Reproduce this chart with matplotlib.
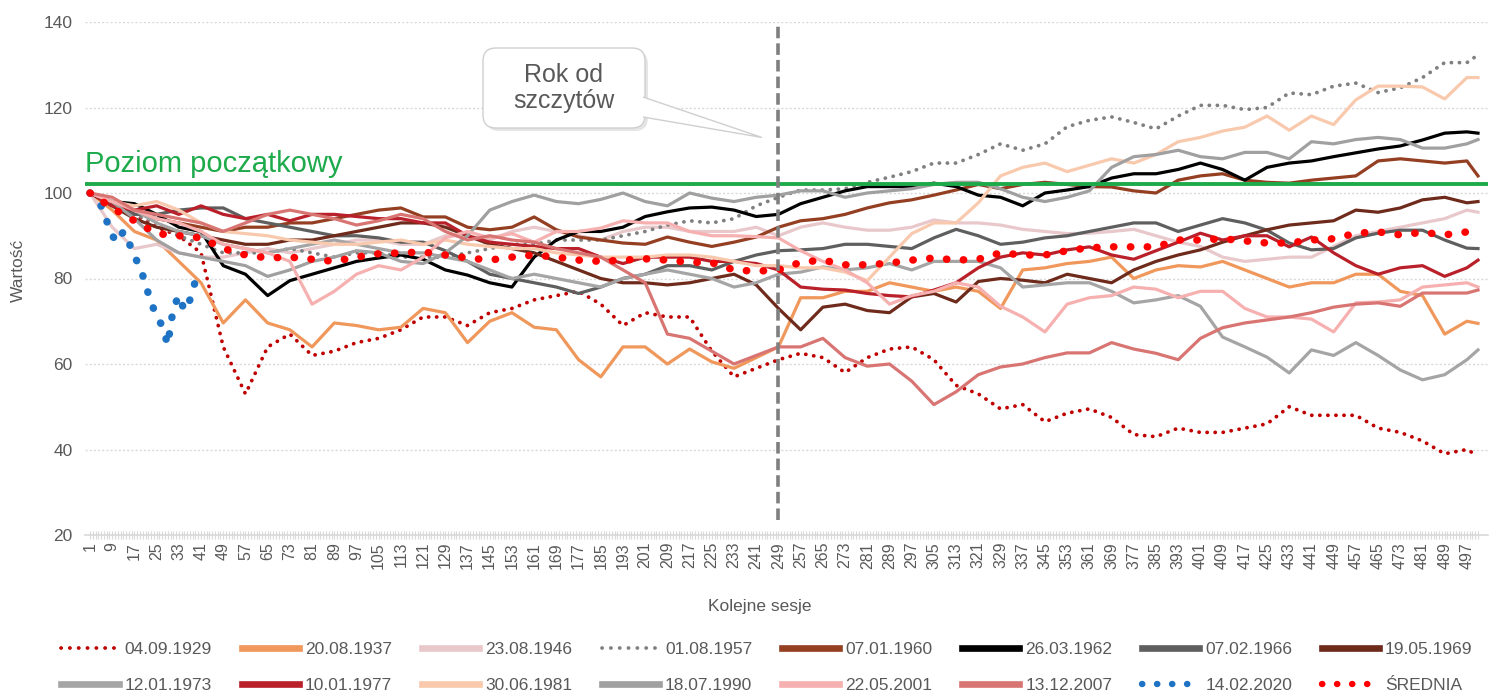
import matplotlib
matplotlib.use('Agg')
import matplotlib.pyplot as plt
from matplotlib.lines import Line2D
from matplotlib.patches import FancyBboxPatch, Polygon
from matplotlib.transforms import IdentityTransform

plt.rcParams['font.family'] = ['Liberation Sans', 'DejaVu Sans']

# ---------------- data ----------------
sesje = list(range(1, 498, 8)) + [501]
sesje_2020 = list(range(1, 40, 2))
tick_sesje = list(range(1, 498, 8))
y_ticks = [20, 40, 60, 80, 100, 120, 140]

s1929 = [100, 97, 95, 92, 90, 86, 64, 53,
         64, 67, 62, 63, 65, 66, 68, 71,
         71, 69, 72, 73, 75, 76, 77, 74,
         69, 72, 71, 71, 63, 57, 59, 61,
         62.5, 61.5, 58, 61.5, 63.5, 64, 61, 55,
         53, 49.5, 50.5, 46.5, 48.5, 49.5, 47.5, 43.5,
         43, 45, 44, 44, 45, 46, 50, 48,
         48, 48, 45, 44, 42, 39, 40, 38.5]
s1937 = [100, 96, 91, 89, 84, 79, 69.6, 75,
         69.6, 68, 64, 69.6, 69, 68, 68.6, 73,
         72, 65, 70, 72, 68.6, 68, 61, 57,
         64, 64, 60, 63.5, 60.5, 59, 61.5, 64,
         75.5, 75.5, 77, 77, 79, 78, 77, 78,
         77, 73, 82, 82.5, 83.5, 84, 85, 80,
         82, 83, 82.7, 84, 82, 80, 78, 79,
         79, 81, 81, 77, 76, 67, 70, 69.5]
s1946 = [100, 92, 87, 88, 86, 85, 85, 86,
         87, 86, 87, 88, 89, 89, 88, 88,
         90, 90, 89, 91, 92, 91, 90, 89,
         91, 92, 92, 91, 91, 91, 92, 90,
         92, 93, 92, 91.3, 91.3, 92, 93.7, 93,
         93, 92.5, 91.5, 91, 90.5, 90.6, 91, 91.5,
         90, 88.5, 87.5, 85, 84, 84.5, 85, 85,
         87.5, 90, 91, 92, 93, 94, 96, 95.5]
s1957 = [100, 97, 95, 93, 90, 88, 86, 86,
         86, 87, 86, 85, 86, 86, 85, 85,
         85, 86, 87, 88, 88, 89, 89, 89,
         90, 91, 92.5, 93.5, 93, 94, 97, 99,
         100.7, 100.7, 101, 102.5, 103.7, 105, 107, 107,
         109, 111.5, 110, 111.5, 115.5, 117, 117.8, 116.5,
         115, 118, 120.5, 120.5, 119.5, 120, 123.4, 123,
         125, 125.7, 123.5, 124.6, 127, 130.5, 130.5, 132.3]
s1960 = [100, 98, 96, 94, 93, 92, 91, 92,
         92, 93, 93, 94, 95, 96, 96.5, 94.4,
         94.4, 92, 91.4, 92, 94.4, 91.4, 89.7, 89,
         88.3, 88, 89.7, 88.5, 87.5, 88.5, 89.7, 92,
         93.5, 94, 95, 96.5, 97.7, 98.4, 99.5, 100.7,
         102, 101, 102, 102.5, 102, 101.5, 101.4, 100.5,
         100, 103, 104, 104.5, 103, 102.5, 102.3, 103,
         103.5, 104, 107.5, 108, 107.5, 107, 107.5, 104]
s1962 = [100, 98, 97.5, 95, 92, 91, 83, 81,
         76, 79.5, 81, 82.5, 84, 84.8, 85.5, 84.5,
         82, 80.8, 79, 78, 85, 89, 91, 91,
         92, 94.5, 95.6, 96.5, 96.7, 96, 94.5, 95,
         97.5, 99, 100.5, 101.5, 101.5, 101.5, 102.3, 101.5,
         99.5, 99, 97, 100, 100.7, 101.5, 103.5, 104.5,
         104.5, 105.5, 107, 105.5, 103, 106, 107, 107.5,
         108.5, 109.4, 110.3, 111, 112.4, 114, 114.3, 114]
s1966 = [100, 98, 95, 95, 96, 96.5, 96.5, 94,
         93, 92, 91, 90, 90, 89.5, 88.5, 88.5,
         86.5, 84, 81, 80, 79, 78, 76.5, 78,
         80, 81, 83, 83, 82, 84, 85.5, 86.5,
         86.7, 87, 88, 88, 87.5, 87, 89.5, 91.5,
         90, 88, 88.5, 89.5, 90, 91, 92, 93,
         93, 91, 92.5, 94, 93, 91.3, 88.3, 86.7,
         87, 89.5, 90.6, 91.3, 91.3, 89, 87.1, 87]
s1969 = [100, 97, 94, 92, 91, 90, 89, 88,
         88, 89, 89, 90, 91, 92, 93, 93,
         92, 90, 88, 87, 86, 84, 82, 80,
         79, 79, 78.5, 79, 80, 81, 78.5, 73,
         68, 73.3, 74, 72.5, 72, 75.7, 76.5, 74.5,
         79.3, 80, 79.6, 79, 81, 80, 79, 82,
         84, 85.5, 86.7, 88.5, 90, 91.4, 92.5, 93,
         93.5, 96, 95.5, 96.5, 98.4, 99, 97.7, 98]
s1973 = [100, 98, 96, 93, 91, 90, 88, 87,
         86, 87, 88, 89, 88, 87, 86, 86,
         85, 84, 82, 80, 81, 80, 79, 78,
         80, 81, 82, 81, 80, 78, 79, 81,
         81.5, 82.7, 82, 82.5, 83.5, 82, 84, 84,
         84, 82.5, 78, 78.5, 79, 79, 77, 74.3,
         75, 76, 73.5, 66.3, 64, 61.6, 57.9, 63.3,
         62, 65, 62, 58.6, 56.3, 57.5, 61, 63.3]
s1977 = [100, 97, 96, 97, 95, 97, 95, 94,
         95, 93.5, 95, 95, 94.5, 94, 94, 93,
         93, 90, 88.5, 88, 87.5, 87, 87, 85,
         83.5, 85, 85, 85, 84, 84, 83.5, 82,
         78, 77.5, 77.3, 76.5, 76, 75.7, 77.3, 79,
         82.5, 85, 86, 85.5, 86.7, 87.4, 85.5, 84.5,
         86.5, 88.5, 90.6, 89, 90, 90, 87.4, 89.7,
         86, 83, 81, 82.5, 83, 80.5, 82.5, 84.3]
s1981 = [100, 98, 97, 98, 96, 93, 91, 90.5,
         90, 89, 88.5, 88, 88, 88.5, 89, 88,
         89, 88, 87.5, 87, 87, 86, 85.5, 85,
         85, 85, 85.5, 85.5, 85, 84, 83, 83,
         82.5, 82.5, 81.5, 79.5, 85, 90.5, 93, 93,
         97.7, 104, 106, 107, 105, 106.5, 108, 107,
         109, 112, 113, 114.5, 115.4, 118, 114.7, 118,
         116, 121.8, 125, 125, 124.8, 122, 127, 127]
s1990 = [100, 98, 94, 89, 86, 85, 84, 83,
         80.5, 82, 84, 85, 86.5, 86, 84, 83.5,
         86, 90, 96, 98, 99.5, 98, 97.5, 98.5,
         100, 98, 97, 100, 98.8, 98, 99, 99.5,
         100.5, 100.5, 99, 100, 100.5, 101, 102, 102.5,
         102.5, 101, 99, 98, 99, 100.5, 106, 108.5,
         109, 110, 108.5, 108, 109.5, 109.5, 108, 112,
         111.5, 112.5, 113, 112.5, 110.5, 110.5, 111.5, 112.5]
s2001 = [100, 98, 96, 94, 93, 91, 88, 87,
         86, 84, 74, 77, 81, 83, 82, 85,
         89.5, 91, 89.5, 90.5, 88.5, 91, 91, 91.8,
         93.5, 93, 93, 91, 90, 90, 89.8, 89.5,
         86.5, 84, 82, 79, 74, 76, 77, 79,
         78, 73.5, 71, 67.5, 74, 75.5, 76, 78,
         77.5, 75.5, 77, 77, 73, 71, 71, 70.5,
         67.5, 74.3, 74.5, 75, 78, 78.5, 79, 78]
s2007 = [100, 99, 96, 95, 94, 93, 91, 93,
         95, 96, 95, 94, 92.5, 93.5, 95, 94,
         91, 89, 90, 89, 88.5, 87, 86, 85,
         82, 79, 67, 66, 63, 60, 62, 64,
         64, 66, 61.5, 59.5, 60, 56, 50.5, 53.5,
         57.5, 59.3, 60, 61.5, 62.6, 62.6, 65, 63.5,
         62.5, 61, 66, 68.5, 69.6, 70.3, 71, 72,
         73.3, 74, 74.3, 73.5, 76.6, 76.6, 76.6, 77.3]
s2020 = [100, 98.5, 97, 93.5, 90, 88.5, 91, 88.5, 85, 83,
         78.5, 74.5, 71, 69, 64.5, 73, 76, 72.5, 75, 79.5]
srednia = [100, 96.5, 93.5, 90.5, 90, 89.5, 87, 85.5,
           84.8, 85, 84.5, 84, 85, 85.8, 86, 86.2,
           85.5, 84.8, 84.3, 85, 85.5, 85, 84.3, 84,
           84.3, 84.6, 84.3, 83.8, 83.7, 82, 81.7, 82,
           83.8, 84.3, 83.2, 83.2, 83.6, 84.3, 84.8, 84.3,
           84.5, 86, 85.5, 85.5, 86.5, 87.2, 87.4, 87.4,
           87.4, 89, 89, 89.3, 88.8, 88.3, 88.3, 89,
           89.3, 90.6, 90.9, 90.2, 90.8, 90.2, 90.9, 91.3]

poziom_poczatkowy = 102
rok_od_szczytow = 249

series = [
    ('04.09.1929', sesje, s1929, '#C00000', 'dot_small'),
    ('20.08.1937', sesje, s1937, '#F0975B', 'solid'),
    ('23.08.1946', sesje, s1946, '#E8C8CB', 'solid'),
    ('01.08.1957', sesje, s1957, '#808080', 'dot_small'),
    ('07.01.1960', sesje, s1960, '#953F22', 'solid'),
    ('26.03.1962', sesje, s1962, '#000000', 'solid'),
    ('07.02.1966', sesje, s1966, '#5F5F5F', 'solid'),
    ('19.05.1969', sesje, s1969, '#6E2B1C', 'solid'),
    ('12.01.1973', sesje, s1973, '#A5A5A5', 'solid'),
    ('10.01.1977', sesje, s1977, '#B9202A', 'solid'),
    ('30.06.1981', sesje, s1981, '#F9C9AD', 'solid'),
    ('18.07.1990', sesje, s1990, '#A0A0A0', 'solid'),
    ('22.05.2001', sesje, s2001, '#F7B0B0', 'solid'),
    ('13.12.2007', sesje, s2007, '#D87573', 'solid'),
    ('14.02.2020', sesje_2020, s2020, '#1F73C4', 'dot_big'),
    ('ŚREDNIA', sesje, srednia, '#FF0000', 'dot_big'),
]

TXT = '#595959'
GRID = '#D9D9D9'
GREEN = '#1DAA4B'

fig = plt.figure(figsize=(15.04, 6.95), dpi=100)
ax = fig.add_axes([85 / 1504, 1 - 535 / 695, (1488 - 85) / 1504, (535 - 22) / 695])
ax.set_xlim(-0.8, 504.6)
ax.set_ylim(20, 140)

for lab, xs, vals, col, kind in series:
    if kind == 'solid':
        ax.plot(xs, vals, color=col, lw=2.3, solid_joinstyle='round', zorder=3)
    elif kind == 'dot_small':
        ax.plot(xs, vals, color=col, lw=2.7, linestyle=(0, (0.05, 2.1)),
                dash_capstyle='round', zorder=3)
    else:
        ax.plot(xs, vals, color=col, lw=5.4, linestyle=(0, (0.05, 2.2)),
                dash_capstyle='round', zorder=4)

# initial level
ax.axhline(poziom_poczatkowy, color=GREEN, lw=2.8, zorder=5)
fig.text(85 / 1504, 1 - 172 / 695, 'Poziom początkowy', color=GREEN,
         fontsize=21, ha='left', va='baseline')

# one year after peak
ax.plot([rok_od_szczytow, rok_od_szczytow], [23.5, 140], color='#7F7F7F', lw=2.6,
        linestyle=(0, (3.2, 1.4)), zorder=6, clip_on=False)

# axes styling
for sp in ['top', 'right', 'left']:
    ax.spines[sp].set_visible(False)
ax.spines['bottom'].set_color(GRID)
ax.spines['bottom'].set_linewidth(1.2)
ax.set_yticks(y_ticks)
ax.set_yticklabels([str(v) for v in y_ticks], fontsize=12.5, color=TXT)
ax.tick_params(axis='y', length=0, pad=9)
ax.set_xticks(tick_sesje)
ax.set_xticklabels([str(t) for t in tick_sesje], rotation=90, fontsize=11.5, color=TXT)
ax.set_xticks(list(range(1, 502)), minor=True)
ax.tick_params(axis='x', which='both', direction='inout', length=6, width=0.8,
               color=GRID, pad=2)
ax.yaxis.grid(True, color=GRID, lw=1, linestyle=(0, (1.5, 1.5)))
ax.set_axisbelow(True)

fig.text(18 / 1504, 1 - 270 / 695, 'Wartość', rotation=90, ha='center', va='center',
         fontsize=12.5, color=TXT)
fig.text(760 / 1504, 1 - 607 / 695, 'Kolejne sesje', ha='center', va='center',
         fontsize=12.5, color=TXT)

# callout "Rok od szczytów" (pixel coordinates, origin bottom-left)
H = 695
tr = IdentityTransform()
shadow = FancyBboxPatch((486, H - 131), 162, 80, boxstyle='round,pad=0,rounding_size=13',
                        transform=tr, facecolor='#000000', alpha=0.10, edgecolor='none',
                        zorder=7)
fig.patches.append(shadow)
box = FancyBboxPatch((483, H - 128), 162, 80, boxstyle='round,pad=0,rounding_size=13',
                     transform=tr, facecolor='white', edgecolor='#CFCFCF', lw=1.0, zorder=8)
fig.patches.append(box)
tip = ax.transData.transform((243, 113))
wedge = Polygon([(643, H - 97), (tip[0], tip[1]), (643, H - 117)], closed=False,
                transform=tr, facecolor='white', edgecolor='#CFCFCF', lw=1.0, zorder=9)
fig.patches.append(wedge)
fig.text(564, H - 88, 'Rok od\nszczytów', transform=tr, ha='center', va='center',
         fontsize=18, color=TXT, linespacing=1.15, zorder=10)

# legend (row-wise order: matplotlib fills column by column)
handles, labels = [], []
for lab, xs, vals, col, kind in series:
    if kind == 'solid':
        h = Line2D([], [], color=col, lw=4.8)
    elif kind == 'dot_small':
        h = Line2D([], [], color=col, lw=2.7, linestyle=(0, (0.05, 2.3)), dash_capstyle='round')
    else:
        h = Line2D([], [], color=col, lw=4.6, linestyle=(0, (0.05, 2.3)), dash_capstyle='round')
    handles.append(h)
    labels.append(lab)
order = []
for i in range(8):
    order += [i, i + 8]
handles = [handles[i] for i in order]
labels = [labels[i] for i in order]
fig.legend(handles, labels, loc='upper center', bbox_to_anchor=(767 / 1504, 1 - 633 / 695),
           ncol=8, frameon=False, fontsize=12.5, handlelength=3.3, handletextpad=0.35,
           columnspacing=1.7, labelspacing=1.2, labelcolor=TXT, borderpad=0)

fig.savefig('out.png', dpi=100)
